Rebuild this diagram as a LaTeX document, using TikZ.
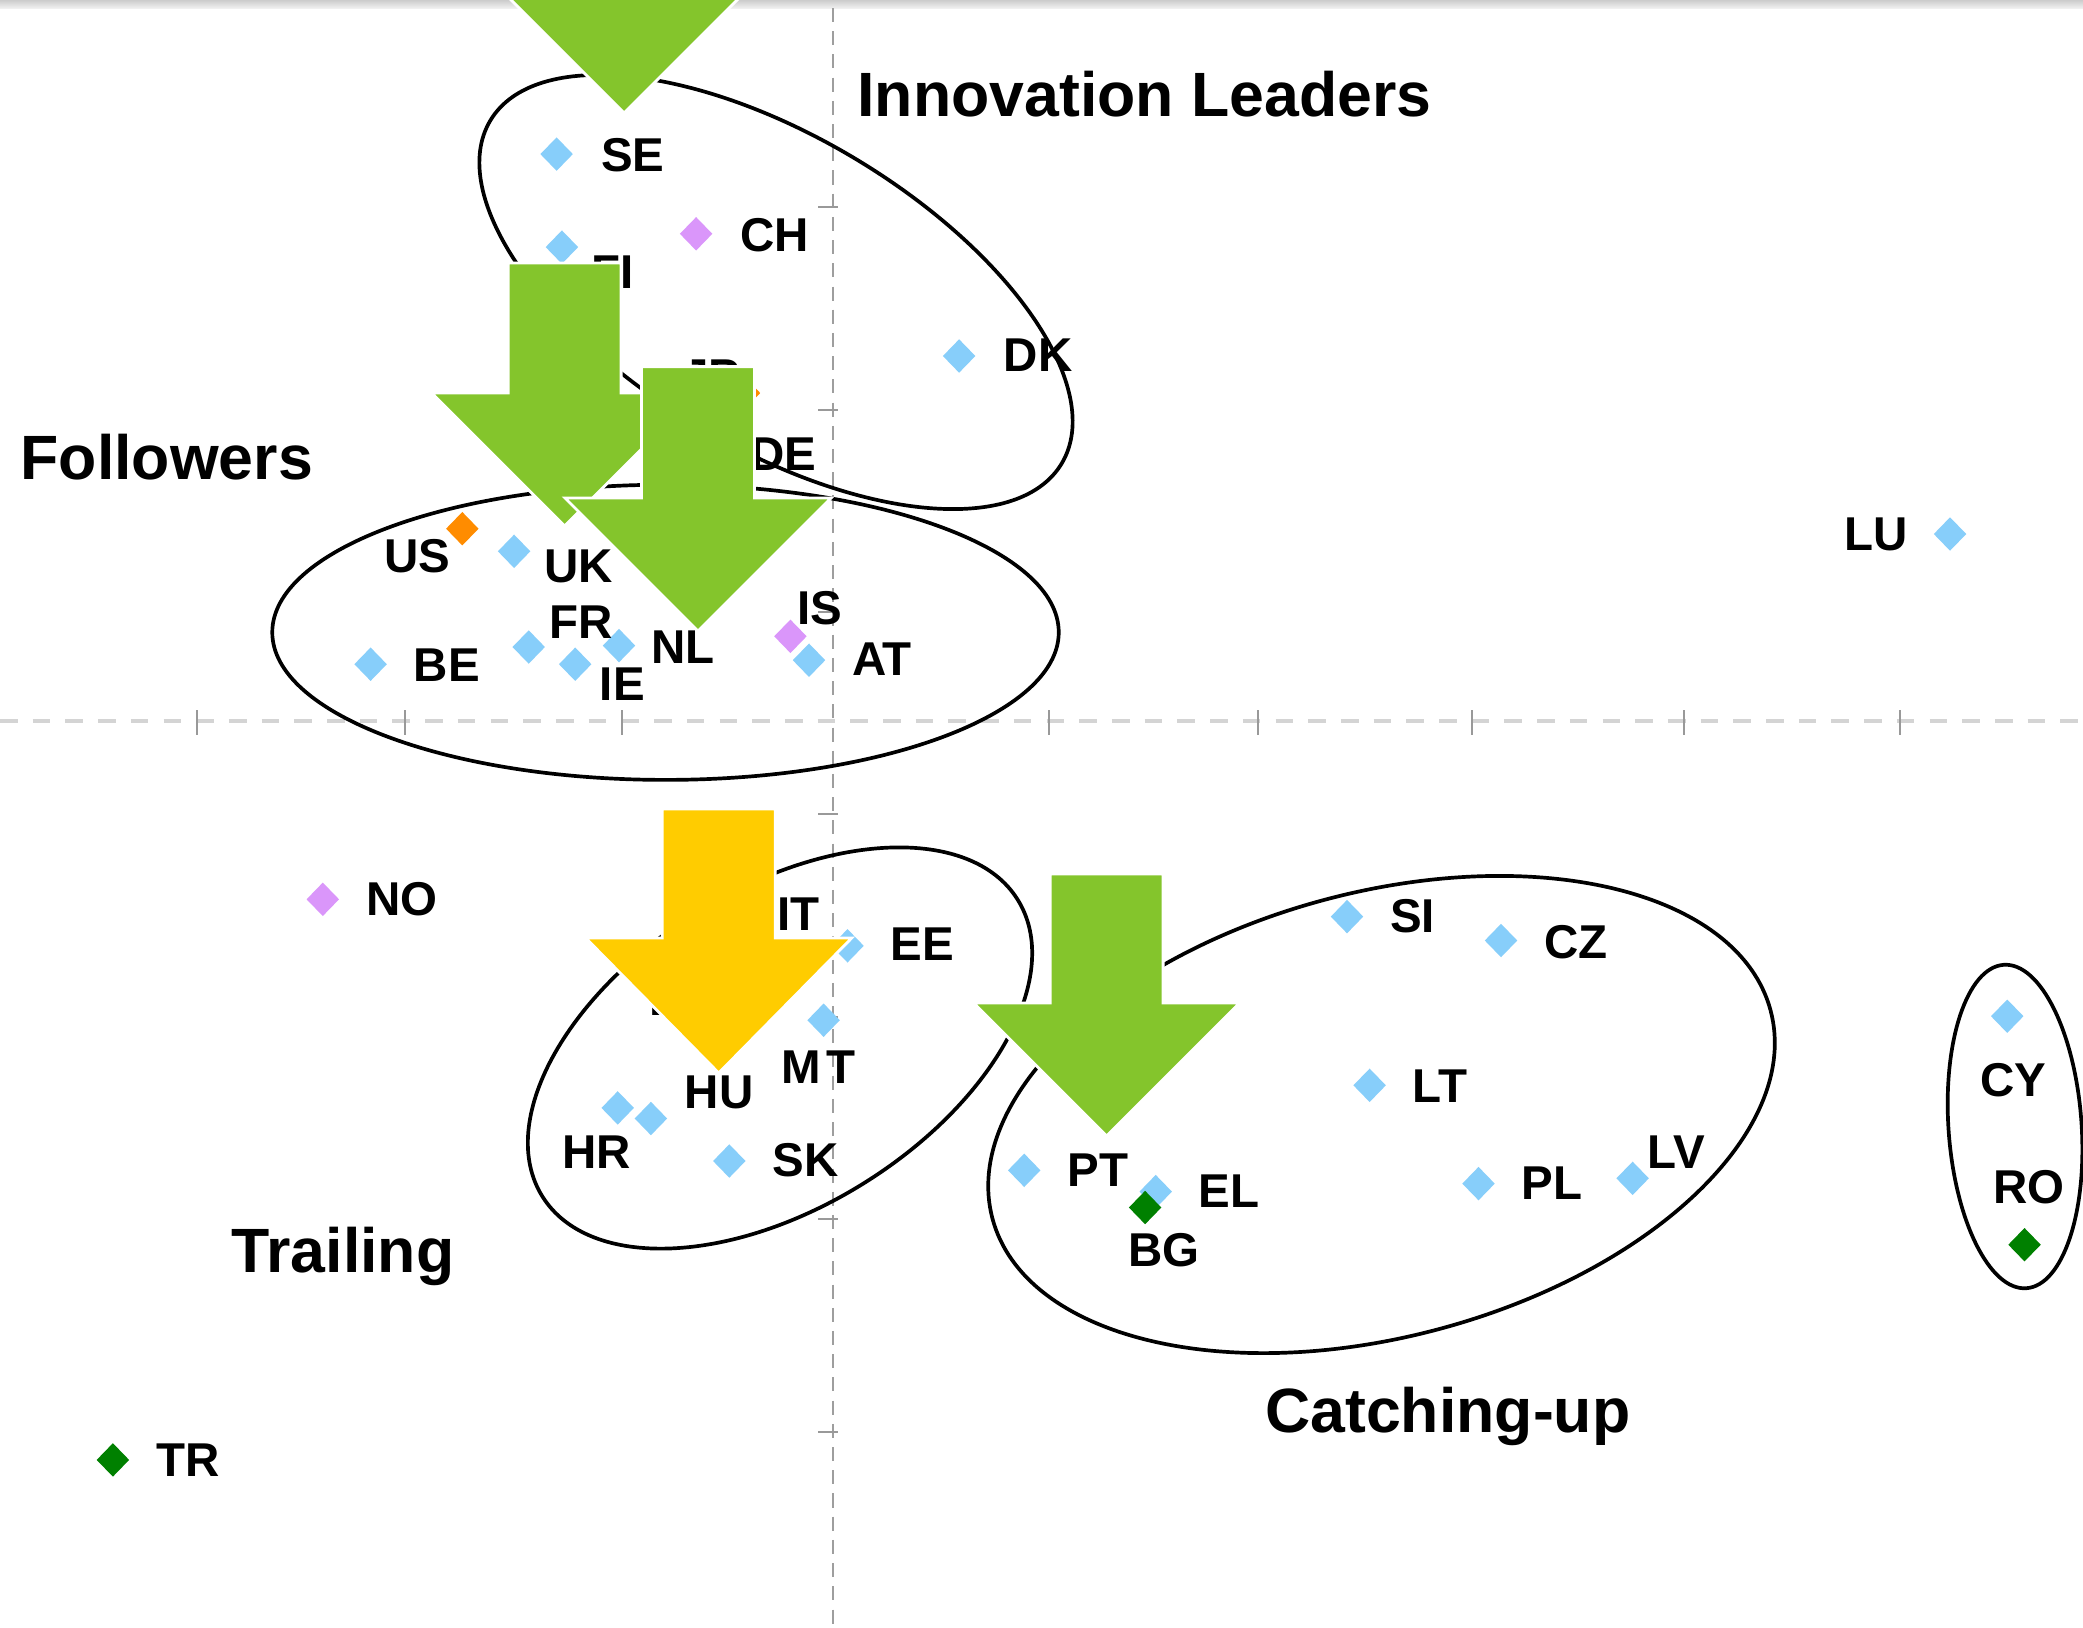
\documentclass[tikz,border=0pt]{standalone}
\usepackage{fontspec}
\setmainfont{Liberation Sans}
\usetikzlibrary{shapes.geometric}
\definecolor{ptblue}{HTML}{87CEFA}
\definecolor{ptpurple}{HTML}{DA96FA}
\definecolor{ptorange}{HTML}{FF8C00}
\definecolor{ptgreen}{HTML}{008000}
\definecolor{arrgreen}{HTML}{84C52C}
\definecolor{arryellow}{HTML}{FFCC00}
\newcommand\myblockarrow[5]{%
  \fill[#1, draw=white, line width=0.8pt]
    (#2-56.5,#3) -- (#2+56.5,#3) -- (#2+56.5,#4) -- (#2+133,#4) -- (#2,#5)
    -- (#2-133,#4) -- (#2-56.5,#4) -- cycle;}
\begin{document}
\begin{tikzpicture}[x=0.01cm,y=-0.01cm,
  pt/.style={diamond, fill=#1, draw=none, minimum width=0.33cm, minimum height=0.34cm, inner sep=0pt},
  lab/.style={font=\fontsize{13.5}{13.5}\selectfont\bfseries, inner sep=0pt, anchor=base west},
  heading/.style={font=\fontsize{17.8}{17.8}\selectfont\bfseries, inner sep=0pt, anchor=base west},
  grp/.style={draw=black, line width=1.05pt, ellipse, inner sep=0pt},
  hgrid/.style={draw=black!17, line width=1.1pt, dash pattern=on 5pt off 4.3pt},
  vgrid/.style={draw=black!38, line width=0.6pt, dash pattern=on 4pt off 2.6pt},
  tickmark/.style={draw=black!40, line width=0.5pt}]
\useasboundingbox (0,0) rectangle (2083,1627);
\clip (0,0) rectangle (2083,1627);
\fill[white] (0,0) rectangle (2083,1627);
\shade[top color=black!20, bottom color=black!6] (0,0) rectangle (2083,8);
% axes
\draw[hgrid] (0,721) -- (2083,721);
\draw[vgrid] (833,8) -- (833,1627);
\foreach \x in {197,405,622,1049,1258,1472,1684,1900}
  \draw[tickmark] (\x,710) -- (\x,735);
\foreach \y in {207,410,612,814,1017,1219,1432}
  \draw[tickmark] (818,\y) -- (838,\y);
% groups
\node[grp, minimum width=6.66cm, minimum height=3.10cm, rotate=-31] (leaders) at (776,292) {};
\node[grp, minimum width=7.86cm, minimum height=2.95cm] (followers) at (665.5,632.3) {};
\node[grp, minimum width=5.60cm, minimum height=3.18cm, rotate=32] (moderate) at (780,1048) {};
\node[grp, minimum width=8.05cm, minimum height=4.44cm, rotate=15] (catching) at (1381.5,1114.5) {};
\node[grp, minimum width=1.33cm, minimum height=3.24cm, rotate=4] (cyro) at (2015,1126.5) {};
% points
\node[pt=ptblue] (SE) at (556.6,154.1) {};
\node[pt=ptblue] (FI) at (561.9,247.1) {};
\node[pt=ptpurple] (CH) at (696.1,233.8) {};
\node[pt=ptorange] (JP) at (744,393) {};
\node[pt=ptblue] (DK) at (959.1,356) {};
\node[pt=ptblue] (LU) at (1950,534) {};
\node[pt=ptorange] (US) at (462.3,528.7) {};
\node[pt=ptblue] (UK) at (514.1,551.3) {};
\node[pt=ptblue] (FR) at (528.7,647) {};
\node[pt=ptblue] (NL) at (619,645.6) {};
\node[pt=ptblue] (IE) at (575.2,664.2) {};
\node[pt=ptblue] (BE) at (370.6,664.2) {};
\node[pt=ptpurple] (IS) at (790.4,636.3) {};
\node[pt=ptblue] (AT) at (809,660.2) {};
\node[pt=ptpurple] (NO) at (322.8,899.3) {};
\node[pt=ptblue] (EE) at (847.5,945.8) {};
\node[pt=ptblue] (MT) at (823.6,1020.2) {};
\node[pt=ptblue] (HR) at (617.7,1107.9) {};
\node[pt=ptblue] (HU) at (650.9,1118.5) {};
\node[pt=ptblue] (SK) at (729.3,1161) {};
\node[pt=ptblue] (SI) at (1347,916.6) {};
\node[pt=ptblue] (CZ) at (1501,940.5) {};
\node[pt=ptblue] (LT) at (1369.6,1085.3) {};
\node[pt=ptblue] (PT) at (1024.2,1170.3) {};
\node[pt=ptblue] (EL) at (1155.7,1191.6) {};
\node[pt=ptgreen] (BG) at (1145.1,1207.5) {};
\node[pt=ptblue] (PL) at (1478.5,1183.6) {};
\node[pt=ptblue] (LV) at (1632.6,1178.3) {};
\node[pt=ptblue] (CY) at (2007.2,1016.2) {};
\node[pt=ptgreen] (RO) at (2024.5,1244.7) {};
\node[pt=ptgreen] (TR) at (112.9,1459.9) {};
% labels
\node[lab] (SE-l) at (600.4,171.6) {SE};
\node[lab] (FI-l) at (591.1,288.5) {FI};
\node[lab] (CH-l) at (740,251.3) {CH};
\node[lab] (JP-l) at (681.5,392) {JP};
\node[lab] (DE-l) at (750,470.5) {DE};
\node[lab] (DK-l) at (1003,371) {DK};
\node[lab] (LU-l) at (1843.8,550.2) {LU};
\node[lab] (US-l) at (383.9,572.8) {US};
\node[lab] (UK-l) at (543.3,582) {UK};
\node[lab] (FR-l) at (548.6,638) {FR};
\node[lab] (NL-l) at (651,663) {NL};
\node[lab] (IE-l) at (599.1,700.3) {IE};
\node[lab] (BE-l) at (413.1,681.7) {BE};
\node[lab] (IS-l) at (797,624.5) {IS};
\node[lab] (AT-l) at (851.5,675) {AT};
\node[lab] (NO-l) at (365.3,915.5) {NO};
\node[lab] (IT-l) at (777,930) {IT};
\node[lab] (ES-l) at (649,1015) {ES};
\node[lab] (EE-l) at (890,960.7) {EE};
\node[lab] (MT-l) at (781.1,1083) {M\kern1.5pt T};
\node[lab] (HU-l) at (684.1,1108) {HU};
\node[lab] (HR-l) at (561.9,1168) {HR};
\node[lab] (SK-l) at (771.8,1176) {SK};
\node[lab] (SI-l) at (1389.5,932.8) {SI};
\node[lab] (CZ-l) at (1543.6,958) {CZ};
\node[lab] (LT-l) at (1412.1,1102.8) {LT};
\node[lab] (PT-l) at (1066.7,1186.5) {PT};
\node[lab] (EL-l) at (1198.2,1207.8) {EL};
\node[lab] (BG-l) at (1127.8,1266.2) {BG};
\node[lab] (PL-l) at (1521,1199.8) {PL};
\node[lab] (LV-l) at (1647.2,1168) {LV};
\node[lab] (CY-l) at (1979.3,1096.2) {CY};
\node[lab] (RO-l) at (1992.6,1203.8) {RO};
\node[lab] (TR-l) at (155.4,1476) {TR};
% headings
\node[heading] (h-leaders) at (856.8,116.3) {Innovation Leaders};
\node[heading] (h-followers) at (19.9,479) {Followers};
\node[heading] (h-trailing) at (231.1,1272) {Trailing};
\node[heading] (h-catching) at (1264.6,1432.8) {Catching-up};
% arrows
\myblockarrow{arrgreen}{624}{-150}{-20}{113}
\myblockarrow{arrgreen}{564.6}{263}{393}{526}
\myblockarrow{arrgreen}{698}{366.6}{498}{631}
\myblockarrow{arryellow}{718.7}{809}{938}{1073}
\myblockarrow{arrgreen}{1106.6}{874}{1003}{1136}
\end{tikzpicture}
\end{document}
